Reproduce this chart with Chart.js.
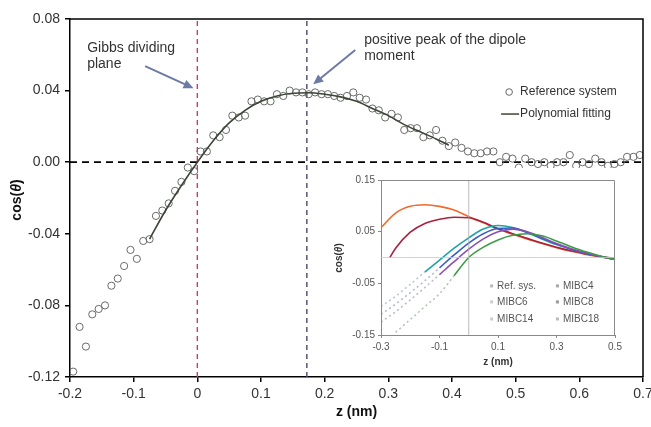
<!DOCTYPE html>
<html>
<head>
<meta charset="utf-8">
<script src="https://cdn.jsdelivr.net/npm/chart.js@4.4.1/dist/chart.umd.min.js"></script>
<style>
  html, body { margin: 0; padding: 0; background: #fff; }
  #wrap { position: relative; width: 651px; height: 427px; }
  #main { position: absolute; left: 0; top: 0; }
  #inset { position: absolute; left: 330px; top: 168px; background: #fff; }
</style>
</head>
<body>
<div id="wrap">
  <canvas id="main" width="651" height="427"></canvas>
  <canvas id="inset" width="300" height="205"></canvas>
</div>
<script>
// main plot: reference system points
const refZ = [-0.195, -0.185, -0.175, -0.165, -0.155, -0.145, -0.135, -0.125, -0.115, -0.105,
  -0.095, -0.085, -0.075, -0.065, -0.055, -0.045, -0.035, -0.025, -0.015, -0.005,
  0.005, 0.015, 0.025, 0.035, 0.045, 0.055, 0.065, 0.075, 0.085, 0.095,
  0.105, 0.115, 0.125, 0.135, 0.145, 0.155, 0.165, 0.175, 0.185, 0.195,
  0.205, 0.215, 0.225, 0.235, 0.245, 0.255, 0.265, 0.275, 0.285, 0.295,
  0.305, 0.315, 0.325, 0.335, 0.345, 0.355, 0.365, 0.375, 0.385, 0.395,
  0.405, 0.415, 0.425, 0.435, 0.445, 0.455, 0.465, 0.475, 0.485, 0.495,
  0.505, 0.515, 0.525, 0.535, 0.545, 0.555, 0.565, 0.575, 0.585, 0.595,
  0.605, 0.615, 0.625, 0.635, 0.645, 0.655, 0.665, 0.675, 0.685, 0.695];
const refCos = [-0.117, -0.092, -0.103, -0.085, -0.082, -0.080, -0.069, -0.065, -0.058, -0.049,
  -0.054, -0.044, -0.043, -0.030, -0.027, -0.023, -0.016, -0.011, -0.003, -0.005,
  0.006, 0.006, 0.015, 0.014, 0.018, 0.026, 0.025, 0.026, 0.034, 0.035,
  0.034, 0.034, 0.038, 0.037, 0.040, 0.039, 0.039, 0.038, 0.039, 0.038,
  0.038, 0.037, 0.036, 0.037, 0.039, 0.036, 0.035, 0.030, 0.029, 0.025,
  0.027, 0.025, 0.018, 0.019, 0.019, 0.014, 0.015, 0.018, 0.012, 0.009,
  0.011, 0.008, 0.006, 0.005, 0.005, 0.006, 0.006, 0.000, 0.003, 0.002,
  -0.003, 0.002, 0.000, -0.001, 0.000, -0.002, 0.000, 0.000, 0.004, -0.002,
  0.000, -0.001, 0.002, 0.000, -0.002, -0.001, 0.000, 0.003, 0.003, 0.004];

// polynomial fit
const fitZ = [-0.075, -0.05, -0.025, 0, 0.025, 0.05, 0.075, 0.1, 0.125, 0.15,
  0.175, 0.2, 0.225, 0.25, 0.275, 0.3, 0.325, 0.35, 0.375, 0.395];
const fitCos = [-0.043, -0.027, -0.013, 0.0, 0.012, 0.022, 0.029, 0.034, 0.037, 0.0385,
  0.0388, 0.038, 0.0365, 0.034, 0.030, 0.026, 0.021, 0.017, 0.013, 0.0095];

const gibbsZ = 0;
const peakZ = 0.172;
const mainZTicks = [-0.2, -0.1, 0, 0.1, 0.2, 0.3, 0.4, 0.5, 0.6, 0.7];
const mainCosTicks = [-0.12, -0.08, -0.04, 0, 0.04, 0.08];

// inset
const insetZ = [-0.3, -0.25, -0.2, -0.15, -0.1, -0.05, 0, 0.05, 0.1, 0.15,
  0.2, 0.25, 0.3, 0.35, 0.4, 0.45, 0.5];
const insetRef = [0.058, 0.086, 0.099, 0.102, 0.099, 0.092, 0.079, 0.067, 0.055, 0.045,
  0.036, 0.027, 0.019, 0.012, 0.006, 0.001, -0.003];
const mibc4Z = [-0.27, -0.25, -0.2, -0.15, -0.1, -0.05, 0, 0.05, 0.1, 0.15,
  0.2, 0.25, 0.3, 0.35, 0.4, 0.45, 0.5];
const mibc4 = [0.0, 0.018, 0.049, 0.066, 0.074, 0.078, 0.077, 0.068, 0.056, 0.046,
  0.037, 0.028, 0.020, 0.013, 0.007, 0.002, -0.002];
const mibc6 = [-0.095, -0.075, -0.052, -0.028, -0.005, 0.018, 0.038, 0.055, 0.062, 0.058,
  0.048, 0.036, 0.025, 0.016, 0.008, 0.002, -0.004];
const mibc8 = [-0.11, -0.09, -0.068, -0.045, -0.02, 0.005, 0.028, 0.046, 0.056, 0.057,
  0.049, 0.037, 0.026, 0.016, 0.008, 0.002, -0.004];
const mibc14 = [-0.125, -0.105, -0.082, -0.058, -0.033, -0.008, 0.016, 0.036, 0.05, 0.055,
  0.05, 0.039, 0.027, 0.017, 0.009, 0.002, -0.004];
const mibc18 = [null, -0.145, -0.12, -0.095, -0.07, -0.035, 0.0, 0.02, 0.034, 0.043,
  0.046, 0.042, 0.032, 0.021, 0.011, 0.003, -0.004];
const insetZTicks = [-0.3, -0.1, 0.1, 0.3, 0.5];
const insetCosTicks = [-0.15, -0.05, 0.05, 0.15];

const FONT = '"Liberation Sans", Arial, sans-serif';
const pts = (xs, ys) => xs.map((x, i) => ({ x: x, y: ys[i] }));

function drawCosTitle(ctx, x, y, size, color) {
  const parts = [['cos(', 'bold'], ['\u03B8', 'italic bold'], [')', 'bold']];
  ctx.save();
  ctx.translate(x, y);
  ctx.rotate(-Math.PI / 2);
  ctx.fillStyle = color;
  ctx.textBaseline = 'middle';
  let total = 0;
  parts.forEach(p => { ctx.font = p[1] + ' ' + size + 'px ' + FONT; total += ctx.measureText(p[0]).width; });
  let cx = -total / 2;
  parts.forEach(p => {
    ctx.font = p[1] + ' ' + size + 'px ' + FONT;
    ctx.fillText(p[0], cx, 0);
    cx += ctx.measureText(p[0]).width;
  });
  ctx.restore();
}

function arrow(ctx, x1, y1, x2, y2, color) {
  const a = Math.atan2(y2 - y1, x2 - x1);
  const len = 10, w = 4.5;
  ctx.save();
  ctx.strokeStyle = color;
  ctx.fillStyle = color;
  ctx.lineWidth = 2;
  ctx.beginPath();
  ctx.moveTo(x1, y1);
  ctx.lineTo(x2 - Math.cos(a) * len * 0.8, y2 - Math.sin(a) * len * 0.8);
  ctx.stroke();
  ctx.beginPath();
  ctx.moveTo(x2, y2);
  ctx.lineTo(x2 - Math.cos(a) * len - Math.sin(a) * w, y2 - Math.sin(a) * len + Math.cos(a) * w);
  ctx.lineTo(x2 - Math.cos(a) * len + Math.sin(a) * w, y2 - Math.sin(a) * len - Math.cos(a) * w);
  ctx.closePath();
  ctx.fill();
  ctx.restore();
}

const mainDecor = {
  id: 'mainDecor',
  afterDraw(chart) {
    const ctx = chart.ctx, a = chart.chartArea;
    const xs = chart.scales.x, ys = chart.scales.y;
    ctx.save();
    ctx.strokeStyle = '#000';
    ctx.lineWidth = 1.5;
    ctx.beginPath();
    ctx.moveTo(a.left, a.top);
    ctx.lineTo(a.right, a.top);
    ctx.lineTo(a.right, a.bottom);
    ctx.stroke();

    drawCosTitle(ctx, 17, 200, 14, '#111');

    // annotations
    ctx.fillStyle = '#333';
    ctx.font = '14px ' + FONT;
    ctx.textBaseline = 'middle';
    ctx.textAlign = 'left';
    ctx.fillText('Gibbs dividing', xs.getPixelForValue(-0.173), ys.getPixelForValue(0.0638));
    ctx.fillText('plane', xs.getPixelForValue(-0.173), ys.getPixelForValue(0.0549));
    ctx.fillText('positive peak of the dipole', xs.getPixelForValue(0.262), ys.getPixelForValue(0.0683));
    ctx.fillText('moment', xs.getPixelForValue(0.262), ys.getPixelForValue(0.0593));
    arrow(ctx, xs.getPixelForValue(-0.082), ys.getPixelForValue(0.0537),
      xs.getPixelForValue(-0.006), ys.getPixelForValue(0.0413), '#6e7aa6');
    arrow(ctx, xs.getPixelForValue(0.248), ys.getPixelForValue(0.0627),
      xs.getPixelForValue(0.182), ys.getPixelForValue(0.0435), '#6e7aa6');

    // legend
    const lx = xs.getPixelForValue(0.507);
    const r1 = ys.getPixelForValue(0.0392), r2 = ys.getPixelForValue(0.0269);
    ctx.font = '12px ' + FONT;
    ctx.strokeStyle = '#666';
    ctx.lineWidth = 1;
    ctx.beginPath();
    ctx.arc(lx - 11, r1, 3.3, 0, Math.PI * 2);
    ctx.stroke();
    ctx.fillText('Reference system', lx, r1);
    ctx.strokeStyle = '#3b4636';
    ctx.lineWidth = 1.5;
    ctx.beginPath();
    ctx.moveTo(lx - 19, r2);
    ctx.lineTo(lx - 1, r2);
    ctx.stroke();
    ctx.fillText('Polynomial fitting', lx, r2);
    ctx.restore();
  }
};

new Chart(document.getElementById('main'), {
  type: 'scatter',
  data: {
    datasets: [
      { label: 'Polynomial fitting', data: pts(fitZ, fitCos), showLine: true, borderColor: '#3b4636',
        borderWidth: 1.6, pointRadius: 0, cubicInterpolationMode: 'monotone' },
      { label: 'Reference system', data: pts(refZ, refCos), showLine: false, pointRadius: 3.6,
        pointBorderColor: '#6a6a6a', pointBackgroundColor: 'rgba(255,255,255,0)', pointBorderWidth: 1 },
      { label: 'zero', data: [{ x: -0.2, y: 0 }, { x: 0.7, y: 0 }], showLine: true, borderColor: '#000',
        borderWidth: 1.8, borderDash: [7, 5], pointRadius: 0 },
      { label: 'gibbs', data: [{ x: gibbsZ, y: -0.12 }, { x: gibbsZ, y: 0.08 }], showLine: true,
        borderColor: '#c0406a', borderWidth: 1.4, borderDash: [5, 4], pointRadius: 0 },
      { label: 'peak', data: [{ x: peakZ, y: -0.12 }, { x: peakZ, y: 0.08 }], showLine: true,
        borderColor: '#4a4a66', borderWidth: 1.4, borderDash: [5, 4], pointRadius: 0 }
    ]
  },
  options: {
    responsive: false,
    animation: false,
    layout: { padding: { top: 19, right: 8, left: 0, bottom: 0 } },
    plugins: { legend: { display: false }, tooltip: { enabled: false } },
    scales: {
      x: {
        type: 'linear', min: -0.2, max: 0.7,
        afterBuildTicks: s => { s.ticks = mainZTicks.map(v => ({ value: v })); },
        afterFit: s => { s.height = 50; s.paddingLeft = 0; s.paddingRight = 0; },
        grid: { drawOnChartArea: false, drawTicks: true, tickLength: 5, color: '#000', lineWidth: 1.5 },
        border: { color: '#000', width: 1.5 },
        ticks: { color: '#333', font: { family: FONT, size: 14 }, padding: 4, maxRotation: 0,
          callback: v => Math.abs(v) < 1e-9 ? '0' : v.toFixed(1) },
        title: { display: true, text: 'z (nm)', color: '#111', font: { family: FONT, size: 14, weight: 'bold' },
          padding: { top: 0, bottom: 6 } }
      },
      y: {
        type: 'linear', min: -0.12, max: 0.08,
        afterBuildTicks: s => { s.ticks = mainCosTicks.map(v => ({ value: v })); },
        afterFit: s => { s.width = 70; s.paddingTop = 0; s.paddingBottom = 0; },
        grid: { drawOnChartArea: false, drawTicks: true, tickLength: 5, color: '#000', lineWidth: 1.5 },
        border: { color: '#000', width: 1.5 },
        ticks: { color: '#333', font: { family: FONT, size: 14 }, padding: 5,
          callback: v => (Math.abs(v) < 1e-9 ? 0 : v).toFixed(2) }
      }
    }
  },
  plugins: [mainDecor]
});

// inset chart
const lowCut = -0.04;
function insetSet(label, xs, ys, color, faded) {
  const ds = { label: label, data: pts(xs, ys), showLine: true, borderColor: color, borderWidth: 1.6,
    pointRadius: 0, cubicInterpolationMode: 'monotone' };
  if (faded) {
    ds.segment = {
      borderColor: c => c.p0.parsed.y < lowCut ? faded : undefined,
      borderDash: c => c.p0.parsed.y < lowCut ? [2, 3] : undefined
    };
  }
  return ds;
}

const insetDecor = {
  id: 'insetDecor',
  afterDraw(chart) {
    const ctx = chart.ctx, a = chart.chartArea;
    const xs = chart.scales.x, ys = chart.scales.y;
    ctx.save();
    ctx.strokeStyle = '#8a8a8a';
    ctx.lineWidth = 1;
    ctx.beginPath();
    ctx.moveTo(a.left, a.top + 0.5);
    ctx.lineTo(a.right - 0.5, a.top + 0.5);
    ctx.lineTo(a.right - 0.5, a.bottom);
    ctx.stroke();
    drawCosTitle(ctx, 9, 90, 10, '#333');

    const cols = [0.097, 0.322];
    const rows = [-0.055, -0.086, -0.119];
    const names = [['Ref. sys.', 'MIBC4'], ['MIBC6', 'MIBC8'], ['MIBC14', 'MIBC18']];
    const marks = [['#b8b8b8', '#a8a8a8'], ['#d0c8d8', '#999'], ['#c8d0c8', '#bbb']];
    ctx.font = '10px ' + FONT;
    ctx.textBaseline = 'middle';
    ctx.fillStyle = '#555';
    rows.forEach((r, i) => {
      cols.forEach((c, j) => {
        const px = xs.getPixelForValue(c), py = ys.getPixelForValue(r);
        ctx.fillStyle = marks[i][j];
        ctx.fillRect(px - 7, py - 1.5, 3, 3);
        ctx.fillStyle = '#555';
        ctx.fillText(names[i][j], px, py);
      });
    });
    ctx.restore();
  }
};

new Chart(document.getElementById('inset'), {
  type: 'scatter',
  data: {
    datasets: [
      { label: 'vline', data: [{ x: 0, y: -0.15 }, { x: 0, y: 0.15 }], showLine: true, borderColor: '#a8a8a8',
        borderWidth: 0.8, pointRadius: 0 },
      { label: 'hline', data: [{ x: -0.3, y: 0 }, { x: 0.5, y: 0 }], showLine: true, borderColor: '#c8c8c8',
        borderWidth: 0.8, pointRadius: 0 },
      insetSet('MIBC18', insetZ, mibc18, '#3f9a48', 'rgba(120,150,120,0.55)'),
      insetSet('MIBC14', insetZ, mibc14, '#8a4fb0', 'rgba(140,130,160,0.55)'),
      insetSet('MIBC8', insetZ, mibc8, '#3a5cc4', 'rgba(120,130,170,0.55)'),
      insetSet('MIBC6', insetZ, mibc6, '#1fa3a8', 'rgba(120,160,170,0.55)'),
      insetSet('MIBC4', mibc4Z, mibc4, '#a8223e', null),
      insetSet('Ref. sys.', insetZ, insetRef, '#f26a2e', null)
    ]
  },
  options: {
    responsive: false,
    animation: false,
    layout: { padding: { top: 12, right: 15, left: 0, bottom: 0 } },
    plugins: { legend: { display: false }, tooltip: { enabled: false } },
    scales: {
      x: {
        type: 'linear', min: -0.3, max: 0.5,
        afterBuildTicks: s => { s.ticks = insetZTicks.map(v => ({ value: v })); },
        afterFit: s => { s.height = 38; s.paddingLeft = 0; s.paddingRight = 0; },
        grid: { drawOnChartArea: false, drawTicks: true, tickLength: 3, color: '#888' },
        border: { color: '#888', width: 1 },
        ticks: { color: '#555', font: { family: FONT, size: 10 }, padding: 3, maxRotation: 0,
          callback: v => v.toFixed(1) },
        title: { display: true, text: 'z (nm)', color: '#333', font: { family: FONT, size: 10, weight: 'bold' },
          padding: { top: 0, bottom: 5 } }
      },
      y: {
        type: 'linear', min: -0.15, max: 0.15,
        afterBuildTicks: s => { s.ticks = insetCosTicks.map(v => ({ value: v })); },
        afterFit: s => { s.width = 51; s.paddingTop = 0; s.paddingBottom = 0; },
        grid: { drawOnChartArea: false, drawTicks: true, tickLength: 3, color: '#888' },
        border: { color: '#888', width: 1 },
        ticks: { color: '#555', font: { family: FONT, size: 10 }, padding: 3,
          callback: v => v.toFixed(2) }
      }
    }
  },
  plugins: [insetDecor]
});
</script>
</body>
</html>
